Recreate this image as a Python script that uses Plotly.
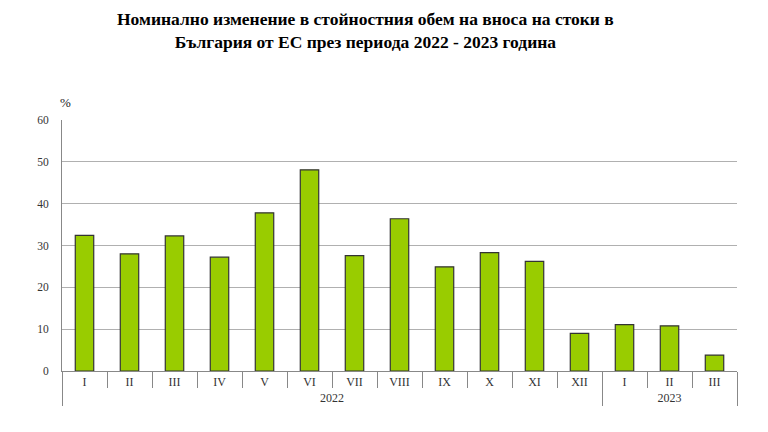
import plotly.graph_objects as go

years = ["2022"] * 12 + ["2023"] * 3
months = ["I", "II", "III", "IV", "V", "VI", "VII", "VIII", "IX", "X", "XI", "XII", "I", "II", "III"]
values = [32.4, 28.0, 32.3, 27.2, 37.8, 48.1, 27.6, 36.4, 24.9, 28.3, 26.2, 9.0, 11.1, 10.8, 3.8]

title_text = ("<b>Номинално изменение в стойностния обем на вноса на стоки в<br>"
              "България от ЕС през периода 2022 - 2023 година</b>")

serif = "Liberation Serif, Times New Roman, serif"

fig = go.Figure(
    go.Bar(
        x=[years, months],
        y=values,
        marker=dict(color="#99CC00", line=dict(color="#333333", width=1.2)),
        hoverinfo="y",
    )
)

fig.update_layout(
    width=760,
    height=424,
    margin=dict(l=54, r=31, t=112, b=61),
    paper_bgcolor="white",
    plot_bgcolor="white",
    bargap=0.59,
    showlegend=False,
    annotations=[
        dict(text=title_text, x=0.449, y=1.3546, xref="paper", yref="paper",
             xanchor="center", yanchor="middle", showarrow=False, align="center",
             font=dict(family=serif, size=17.5, color="black")),
        dict(text="%", x=0.0052, y=1.0717, xref="paper", yref="paper",
             xanchor="center", yanchor="middle", showarrow=False,
             font=dict(family=serif, size=13, color="#222222")),
    ],
)

fig.update_xaxes(
    type="multicategory",
    showline=True,
    linecolor="#888888",
    linewidth=1,
    ticks="outside",
    tickson="boundaries",
    ticklen=16,
    tickcolor="#888888",
    showdividers=True,
    dividercolor="#888888",
    dividerwidth=1,
    showgrid=False,
    tickfont=dict(family=serif, size=12, color="#333333"),
)

fig.update_yaxes(
    range=[0, 60],
    dtick=10,
    showline=True,
    linecolor="#888888",
    linewidth=1,
    showgrid=True,
    gridcolor="#b0b0b0",
    gridwidth=1,
    ticks="",
    ticklabelstandoff=10,
    zeroline=False,
    tickfont=dict(family=serif, size=11.5, color="#333333"),
)

fig.write_html("out.html")
